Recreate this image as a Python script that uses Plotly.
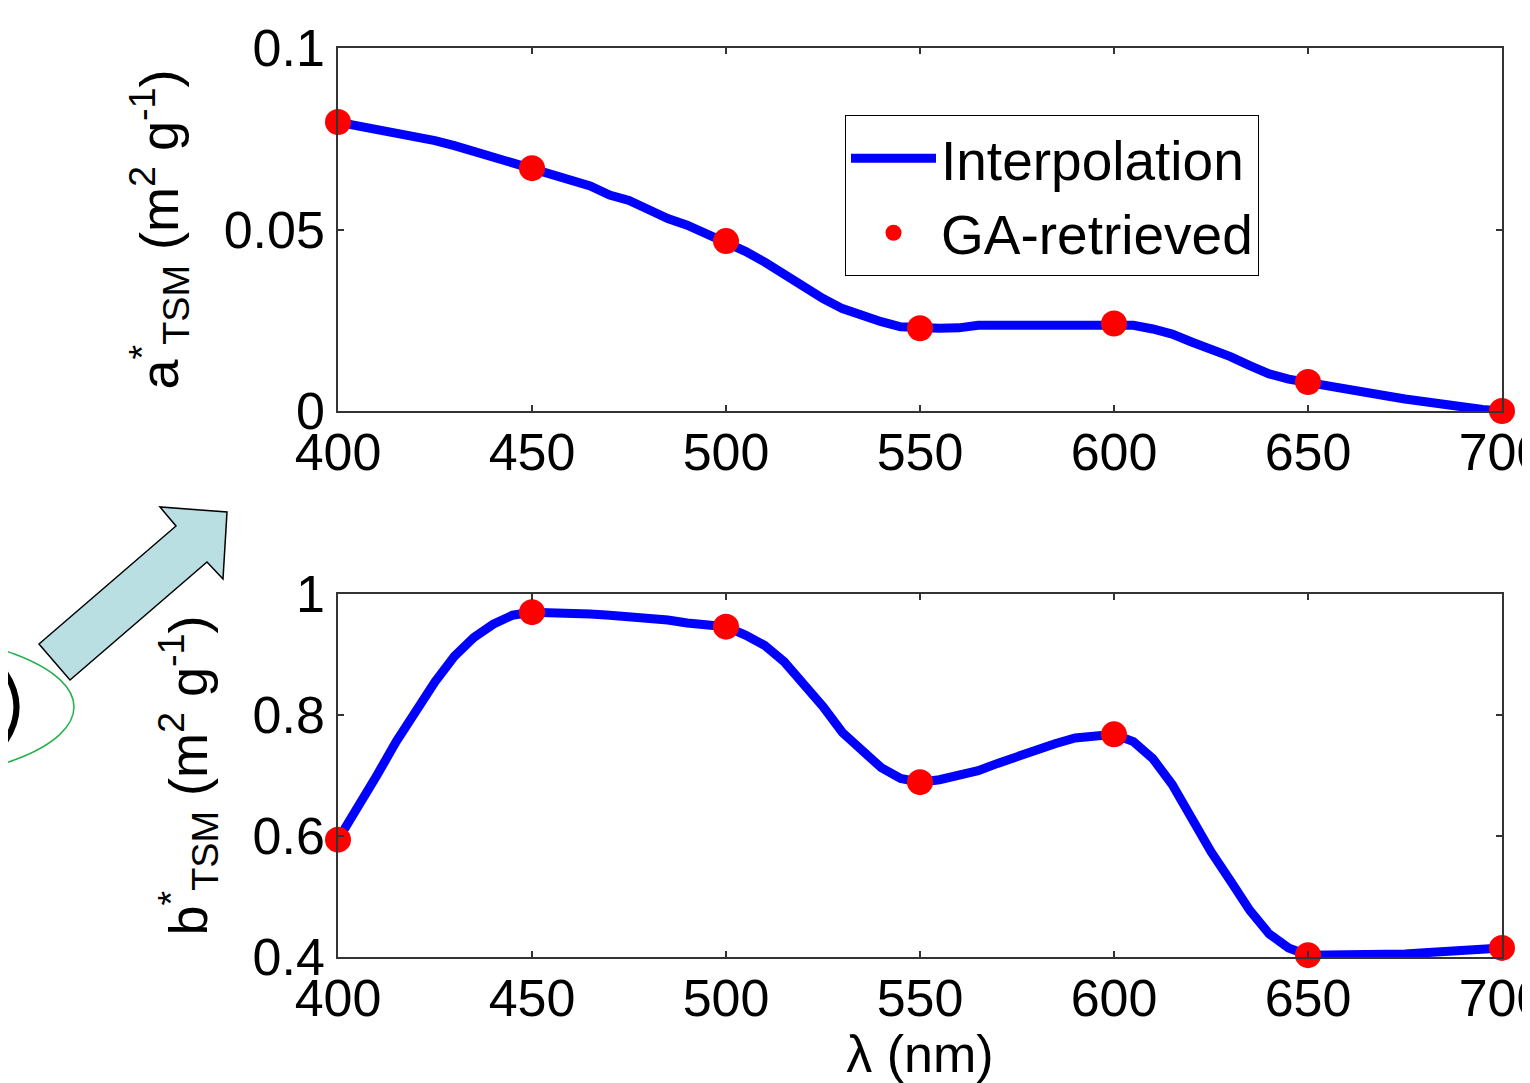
import plotly.graph_objects as go

# ---------------- data ----------------
wl_interp = [400, 405, 410, 415, 420, 425, 430, 435, 440, 445, 450, 455, 460, 465, 470, 475,
             480, 485, 490, 495, 500, 505, 510, 515, 520, 525, 530, 535, 540, 545, 550, 555,
             560, 565, 570, 575, 580, 585, 590, 595, 600, 605, 610, 615, 620, 625, 630, 635,
             640, 645, 650, 655, 660, 665, 670, 675, 680, 685, 690, 695, 700]

a_interp = [0.0796, 0.0787, 0.0778, 0.0769, 0.0760, 0.0745, 0.0731, 0.0715, 0.0697, 0.0683,
            0.0669, 0.0650, 0.0633, 0.0620, 0.0595, 0.0580, 0.0555, 0.0530, 0.0512, 0.0490,
            0.0468, 0.0440, 0.0410, 0.0375, 0.0345, 0.0310, 0.0282, 0.0262, 0.0246, 0.0232,
            0.0228, 0.0228, 0.0229, 0.0236, 0.0236, 0.0236, 0.0242, 0.0242, 0.0242, 0.0242,
            0.0241, 0.0236, 0.0226, 0.0212, 0.0190, 0.0172, 0.0150, 0.0125, 0.0102, 0.0088,
            0.0080, 0.0068, 0.0059, 0.0050, 0.0042, 0.0033, 0.0025, 0.0018, 0.0008, 0.0004,
            0.0000]

b_interp = [0.594, 0.645, 0.700, 0.756, 0.806, 0.855, 0.897, 0.928, 0.950, 0.965,
            0.970, 0.970, 0.970, 0.967, 0.965, 0.963, 0.960, 0.957, 0.952, 0.948,
            0.946, 0.932, 0.915, 0.888, 0.852, 0.814, 0.771, 0.740, 0.713, 0.695,
            0.689, 0.693, 0.699, 0.708, 0.720, 0.732, 0.744, 0.753, 0.762, 0.765,
            0.768, 0.756, 0.728, 0.685, 0.628, 0.574, 0.526, 0.477, 0.438, 0.415,
            0.403, 0.403, 0.403, 0.403, 0.403, 0.405, 0.407, 0.409, 0.411, 0.413,
            0.415]

wl_ga = [400, 450, 500, 550, 600, 650, 700]
a_ga = [0.0796, 0.0669, 0.0468, 0.0228, 0.0241, 0.0080, 0.0000]
b_ga = [0.594, 0.970, 0.946, 0.689, 0.768, 0.403, 0.415]

x_ticks = [400, 450, 500, 550, 600, 650, 700]
x_ticklabels = ["400", "450", "500", "550", "600", "650", "700"]
a_ticks = [0, 0.05, 0.1]
a_ticklabels = ["0", "0.05", "0.1"]
b_ticks = [0.4, 0.6, 0.8, 1.0]
b_ticklabels = ["0.4", "0.6", "0.8", "1"]

# ---------------- figure ----------------
OFF = 8                      # page body margin of the browser
W, H = 1530 - OFF, 1083 - OFF
L_PX, R_PX, T_PX, B_PX = 338, 1502, 48, 957   # plot box in page pixels
ML, MT = L_PX - OFF, T_PX - OFF
MR = W - (R_PX - OFF)
MB = H - (B_PX - OFF)
PW, PH = R_PX - L_PX, B_PX - T_PX

FONT = "Liberation Sans, Arial, sans-serif"
BLUE = "#0000ff"
RED = "#ff0000"

fig = go.Figure()

fig.add_trace(go.Scatter(x=wl_interp, y=a_interp, mode="lines", name="Interpolation",
                         line=dict(color=BLUE, width=9), xaxis="x", yaxis="y",
                         legendgroup="i"))
fig.add_trace(go.Scatter(x=wl_ga, y=a_ga, mode="markers", name="GA-retrieved",
                         marker=dict(color=RED, size=26), xaxis="x", yaxis="y",
                         cliponaxis=False, legendgroup="g"))
fig.add_trace(go.Scatter(x=wl_interp, y=b_interp, mode="lines", name="Interpolation",
                         line=dict(color=BLUE, width=9), xaxis="x2", yaxis="y2",
                         showlegend=False, legendgroup="i"))
fig.add_trace(go.Scatter(x=wl_ga, y=b_ga, mode="markers", name="GA-retrieved",
                         marker=dict(color=RED, size=26), xaxis="x2", yaxis="y2",
                         cliponaxis=False, showlegend=False, legendgroup="g"))

top_lo = (B_PX - 411) / PH
bot_hi = (B_PX - 594) / PH

axis_common = dict(
    showline=True, linecolor="#333333", linewidth=1.5, mirror="ticks",
    ticks="inside", ticklen=6, tickwidth=1.5, tickcolor="#333333",
    showgrid=False, zeroline=False, ticklabeloverflow="allow",
    tickfont=dict(family=FONT, size=52, color="black"),
)

YT_FONT = dict(family=FONT, size=54, color="black")

fig.update_layout(
    width=W, height=H,
    margin=dict(l=ML, r=MR, t=MT, b=MB, autoexpand=False),
    paper_bgcolor="white", plot_bgcolor="white",
    font=dict(family=FONT, color="black"),
    xaxis=dict(domain=[0, 1], anchor="y", range=[400, 700],
               tickvals=x_ticks, ticktext=x_ticklabels, ticklabelstandoff=-5, **axis_common),
    yaxis=dict(domain=[top_lo, 1], anchor="x", range=[0, 0.1],
               tickvals=a_ticks, ticktext=a_ticklabels, ticklabelstandoff=1,
               title=dict(text="a<sup>*</sup><sub>TSM</sub> (m<sup>2</sup> g<sup>-1</sup>)",
                          font=YT_FONT, standoff=28),
               **axis_common),
    xaxis2=dict(domain=[0, 1], anchor="y2", range=[400, 700],
                tickvals=x_ticks, ticktext=x_ticklabels, ticklabelstandoff=-5,
                title=dict(text="λ (nm)", font=dict(family=FONT, size=52, color="black"),
                           standoff=2),
                **axis_common),
    yaxis2=dict(domain=[0, bot_hi], anchor="x2", range=[0.4, 1.0],
                tickvals=b_ticks, ticktext=b_ticklabels, ticklabelstandoff=1,
                title=dict(text="b<sup>*</sup><sub>TSM</sub> (m<sup>2</sup> g<sup>-1</sup>)",
                           font=YT_FONT, standoff=28),
                **axis_common),
    legend=dict(x=(845 - L_PX) / PW, y=(B_PX - 115) / PH, xanchor="left", yanchor="top",
                bgcolor="white", bordercolor="black", borderwidth=1,
                font=dict(family=FONT, size=55, color="black"),
                itemwidth=85, tracegroupgap=0),
    showlegend=True,
)


# ---------------- decorations from the surrounding figure (page pixel -> paper) ----------------
def px(x):
    return (x - L_PX) / PW


def py(y):
    return (B_PX - y) / PH


def path(points, close=True):
    s = "M " + " L ".join(f"{px(x):.5f},{py(y):.5f}" for x, y in points)
    return s + (" Z" if close else "")


arrow_pts = [(39, 644), (176, 526), (160, 507), (227, 512), (223, 579), (207, 562), (70, 680)]
fig.add_shape(type="path", xref="paper", yref="paper", path=path(arrow_pts),
              fillcolor="#b9dfe3", line=dict(color="black", width=1.5))

fig.add_shape(type="circle", xref="paper", yref="paper",
              x0=px(-334), x1=px(74), y0=py(782), y1=py(632),
              line=dict(color="#22b14c", width=1.5), fillcolor="rgba(0,0,0,0)")

paren = (f"M {px(-3):.5f},{py(662):.5f} Q {px(36):.5f},{py(707):.5f} "
         f"{px(-3):.5f},{py(752):.5f}")
fig.add_shape(type="path", xref="paper", yref="paper", path=paren,
              line=dict(color="black", width=6))

fig.write_html("out.html")
